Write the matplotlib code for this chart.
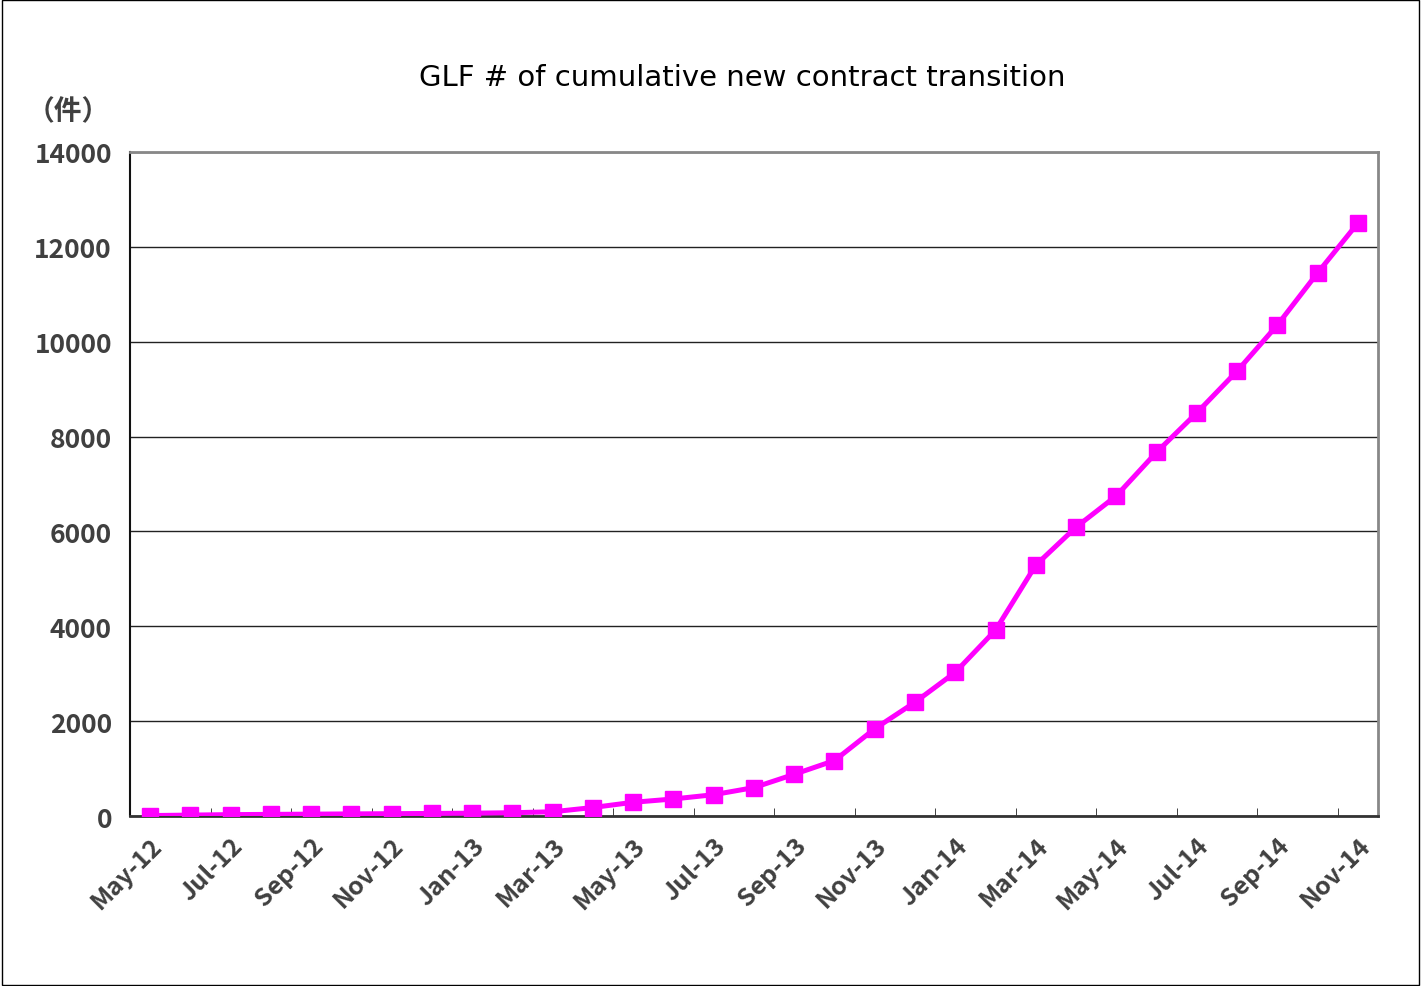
import matplotlib.pyplot as plt
from matplotlib.patches import Rectangle

plt.rcParams['font.family'] = ['Noto Sans CJK JP', 'DejaVu Sans']

months = ['May-12', 'Jun-12', 'Jul-12', 'Aug-12', 'Sep-12', 'Oct-12', 'Nov-12', 'Dec-12',
          'Jan-13', 'Feb-13', 'Mar-13', 'Apr-13', 'May-13', 'Jun-13', 'Jul-13', 'Aug-13',
          'Sep-13', 'Oct-13', 'Nov-13', 'Dec-13', 'Jan-14', 'Feb-14', 'Mar-14', 'Apr-14',
          'May-14', 'Jun-14', 'Jul-14', 'Aug-14', 'Sep-14', 'Oct-14', 'Nov-14']
contracts = [10, 20, 30, 35, 40, 45, 50, 55, 60, 70, 90, 180, 290, 360, 450, 600,
             880, 1170, 1840, 2400, 3030, 3920, 5290, 6090, 6750, 7670, 8500, 9380,
             10350, 11450, 12500]

fig = plt.figure(figsize=(14.21, 9.87), dpi=100)
ax = fig.add_axes([0.0915, 0.1722, 0.8782, 0.6728])

x = list(range(len(months)))
ax.plot(x, contracts, color='#FF00FF', linewidth=3.6, marker='s', markersize=12,
        markerfacecolor='#FF00FF', markeredgecolor='#FF00FF', zorder=3)

ax.set_xlim(-0.5, len(months) - 0.5)
ax.set_ylim(0, 14000)
ax.set_yticks(range(0, 14001, 2000))
ax.grid(axis='y', color='#222222', linewidth=1.0)

# labels on every other month, tick marks on every other category boundary
ax.set_xticks(x[::2])
ax.set_xticklabels(months[::2], rotation=45, ha='right', rotation_mode='anchor',
                   fontsize=18, fontweight='bold', color='#404040')
ax.set_xticks([i + 0.5 for i in range(1, len(months), 2)], minor=True)
ax.tick_params(axis='x', which='major', length=0, pad=12)
ax.tick_params(axis='x', which='minor', direction='in', length=6, color='#222222')
ax.tick_params(axis='y', length=0, pad=13, labelsize=19, labelcolor='#404040')
for lab in ax.get_yticklabels():
    lab.set_fontweight('bold')

ax.spines['left'].set_color('#111111')
ax.spines['bottom'].set_color('#333333')
ax.spines['bottom'].set_linewidth(2)
ax.spines['left'].set_linewidth(1.5)
ax.spines['top'].set_color('#888888')
ax.spines['right'].set_color('#888888')
ax.spines['top'].set_linewidth(2)
ax.spines['right'].set_linewidth(2)

fig.text(0.522, 0.921, 'GLF # of cumulative new contract transition', ha='center',
         va='center', fontsize=21, color='black', family='DejaVu Sans')
fig.text(0.048, 0.886, '（件）', ha='center', va='center', fontsize=20,
         fontweight='bold', color='#404040')

fig.patches.append(Rectangle((0.0015, 0.001), 0.997, 0.998, transform=fig.transFigure,
                             fill=False, edgecolor='black', linewidth=1))

fig.savefig('out.png', dpi=100)
